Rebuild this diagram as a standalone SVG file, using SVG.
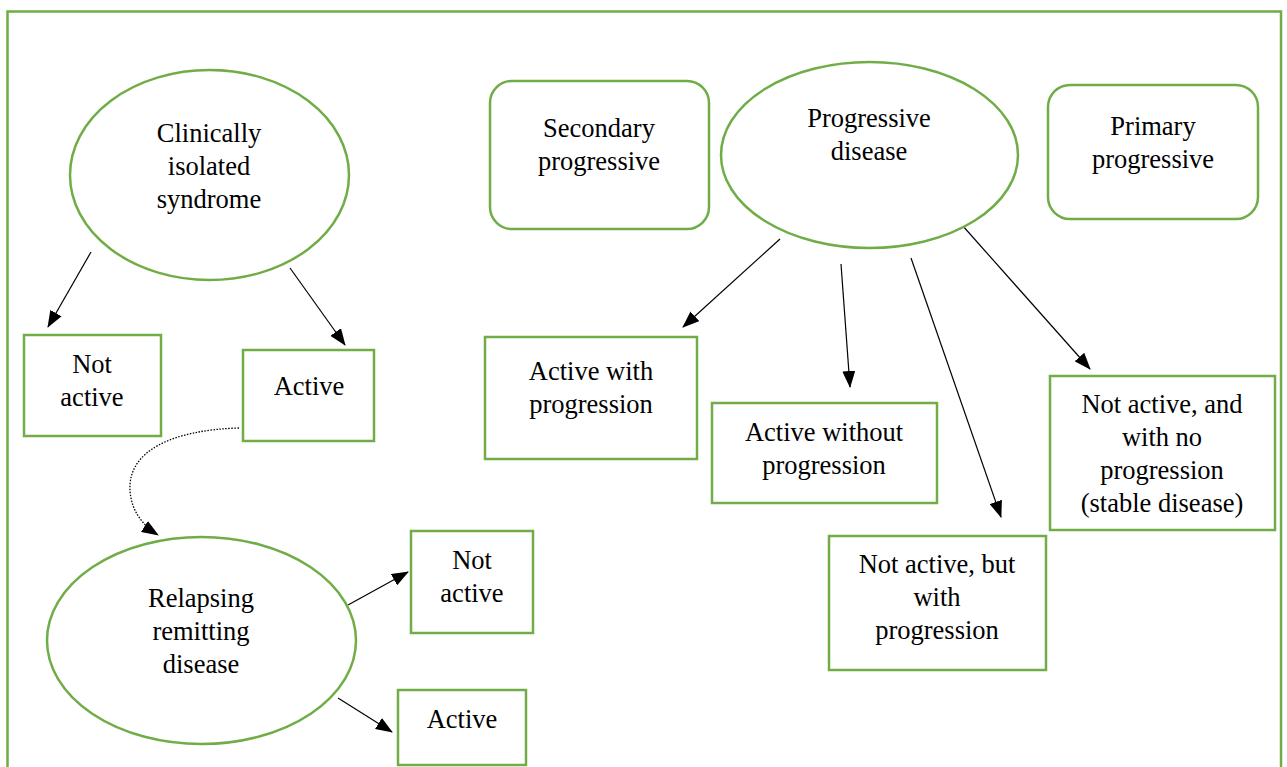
<svg xmlns="http://www.w3.org/2000/svg" width="1287" height="767" viewBox="0 0 1287 767">
<style>
.n{fill:#fff;stroke:#70AD47;stroke-width:2.5}
.t{font-family:"Liberation Serif","Times New Roman",serif;font-size:26.5px;fill:#000;text-anchor:middle}
.c{stroke:#000;stroke-width:1.2;fill:none;marker-end:url(#ah)}
.d{stroke:#000;stroke-width:1.3;fill:none;stroke-dasharray:1.5 1.5;marker-end:url(#ah)}
</style>
<defs>
<marker id="ah" markerWidth="17" markerHeight="13" refX="16" refY="6.5" orient="auto" markerUnits="userSpaceOnUse">
<path d="M0,0 L17,6.5 L0,13 Z" fill="#000"/>
</marker>
</defs>
<rect width="1287" height="767" fill="#fff"/>
<rect x="7.5" y="11.5" width="1273.5" height="770" fill="none" stroke="#70AD47" stroke-width="2.5"/>
<g id="connectors">
<line class="c" x1="91" y1="252" x2="48" y2="327"/>
<line class="c" x1="290" y1="268" x2="345" y2="345"/>
<path class="d" d="M239,428 C170,430 128,452 130,490 C131,510 142,525 158,535"/>
<line class="c" x1="348" y1="605" x2="408" y2="572"/>
<line class="c" x1="338" y1="698" x2="392" y2="732"/>
<line class="c" x1="780" y1="239" x2="683" y2="327"/>
<line class="c" x1="841" y1="264" x2="850" y2="387"/>
<line class="c" x1="911" y1="258" x2="1001" y2="517"/>
<line class="c" x1="962" y1="225" x2="1090" y2="369"/>
</g>
<g id="cis">
<ellipse class="n" cx="209.5" cy="175" rx="139.5" ry="105"/>
<text class="t" x="209" y="142">Clinically</text>
<text class="t" x="209" y="175">isolated</text>
<text class="t" x="209" y="208">syndrome</text>
</g>
<g id="secondary">
<rect class="n" x="490" y="81" width="219" height="148" rx="22"/>
<text class="t" x="599" y="137">Secondary</text>
<text class="t" x="599" y="170">progressive</text>
</g>
<g id="progressive">
<ellipse class="n" cx="869.5" cy="155" rx="148.5" ry="93"/>
<text class="t" x="869" y="127">Progressive</text>
<text class="t" x="869" y="160">disease</text>
</g>
<g id="primary">
<rect class="n" x="1048" y="85" width="210" height="134" rx="22"/>
<text class="t" x="1153" y="135">Primary</text>
<text class="t" x="1153" y="168">progressive</text>
</g>
<g id="cis-not-active">
<rect class="n" x="24" y="335" width="137" height="101"/>
<text class="t" x="92" y="373">Not</text>
<text class="t" x="92" y="406">active</text>
</g>
<g id="cis-active">
<rect class="n" x="243" y="350" width="131" height="91"/>
<text class="t" x="309" y="395">Active</text>
</g>
<g id="active-with-progression">
<rect class="n" x="485" y="337" width="212" height="122"/>
<text class="t" x="591" y="380">Active with</text>
<text class="t" x="591" y="413">progression</text>
</g>
<g id="active-without-progression">
<rect class="n" x="712" y="403" width="225" height="100"/>
<text class="t" x="824" y="441">Active without</text>
<text class="t" x="824" y="474">progression</text>
</g>
<g id="not-active-no-progression">
<rect class="n" x="1050" y="376" width="225" height="154"/>
<text class="t" x="1162" y="413">Not active, and</text>
<text class="t" x="1162" y="446">with no</text>
<text class="t" x="1162" y="479">progression</text>
<text class="t" x="1162" y="512">(stable disease)</text>
</g>
<g id="not-active-with-progression">
<rect class="n" x="829" y="536" width="217" height="134"/>
<text class="t" x="937" y="573">Not active, but</text>
<text class="t" x="937" y="606">with</text>
<text class="t" x="937" y="639">progression</text>
</g>
<g id="relapsing">
<ellipse class="n" cx="201.5" cy="640.5" rx="154.5" ry="103.5"/>
<text class="t" x="201" y="607">Relapsing</text>
<text class="t" x="201" y="640">remitting</text>
<text class="t" x="201" y="673">disease</text>
</g>
<g id="rr-not-active">
<rect class="n" x="411" y="531" width="122" height="102"/>
<text class="t" x="472" y="569">Not</text>
<text class="t" x="472" y="602">active</text>
</g>
<g id="rr-active">
<rect class="n" x="398" y="690" width="128" height="75"/>
<text class="t" x="462" y="728">Active</text>
</g>
</svg>
